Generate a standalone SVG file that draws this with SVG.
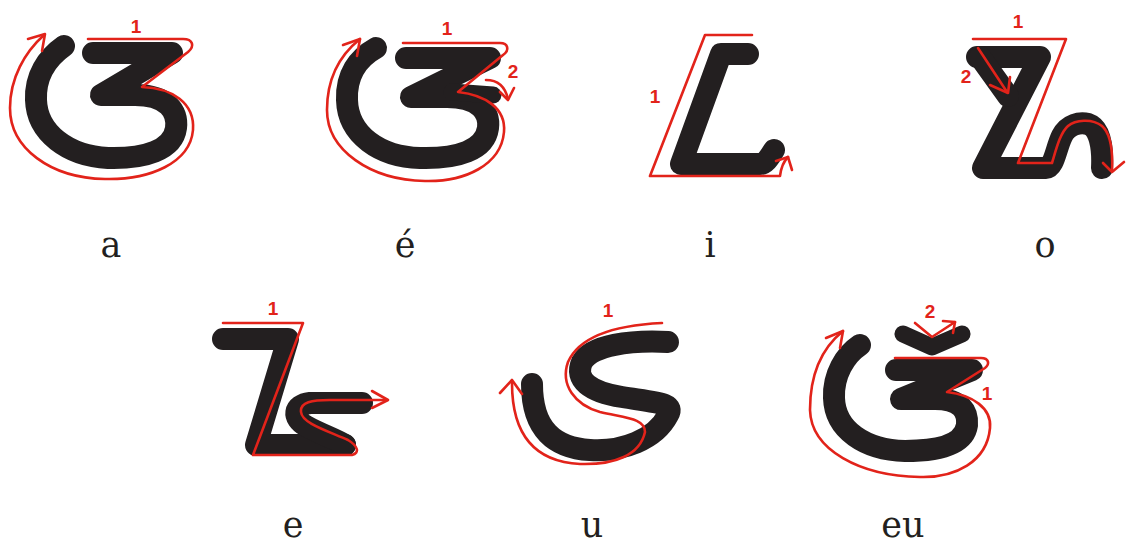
<svg xmlns="http://www.w3.org/2000/svg" width="1132" height="546" viewBox="0 0 1132 546">
<style>
.ink{fill:none;stroke:#231f20;stroke-width:22;stroke-linecap:round;stroke-linejoin:round}
.thin{stroke-width:17}
.guide{fill:none;stroke:#e2231a;stroke-width:2.6;stroke-linecap:round;stroke-linejoin:round}
.num{font-family:"Liberation Sans",Arial,sans-serif;font-weight:bold;font-size:19px;fill:#e2231a;text-anchor:middle}
.lbl{font-family:"DejaVu Serif","Liberation Serif",serif;font-size:35px;fill:#231f20;text-anchor:middle}
</style>
<rect width="1132" height="546" fill="#ffffff"/>

<g id="glyph-a">
<path class="ink" d="M 93,53 L 172,53 L 101,95 L 135,95 C 168,95 178,112 176,128 C 173,150 145,159 108,158 C 68,156 37,133 36,100 C 35,76 47,58 64,46"/>
<path class="guide" d="M 88,39 L 183,39 C 193,39 195,46 188,52 L 142,87 C 172,88 195,103 193,130 C 190,163 150,180 105,179 C 50,178 10,148 10,108 C 10,78 25,52 44,35"/>
<path class="guide" d="M 28,39 L 45,34 L 42,51"/>
<text class="num" x="136" y="33">1</text>
<text class="lbl" x="111" y="257">a</text>
</g>

<g id="glyph-e-acute">
<path class="ink" d="M 406,58 L 490,58 L 411,97 L 447,97 C 480,97 490,113 488,128 C 485,150 458,159 420,158 C 380,157 348,135 347,100 C 346,75 358,58 376,48"/>
<path class="ink thin" d="M 452,92 L 493,95"/>
<path class="guide" d="M 403,43 L 500,43 C 508,43 510,50 503,55 L 458,92 C 485,95 506,108 504,132 C 501,165 465,182 425,181 C 370,180 327,150 327,110 C 327,78 340,55 360,39"/>
<path class="guide" d="M 343,45 L 360,39 L 357,56"/>
<path class="guide" d="M 486,80 C 497,80 505,86 508,99"/>
<path class="guide" d="M 500,92 L 508,100 L 514,88"/>
<text class="num" x="447" y="35">1</text>
<text class="num" x="513" y="78">2</text>
<text class="lbl" x="405" y="257">é</text>
</g>

<g id="glyph-i">
<path class="ink" d="M 748,54 L 721,54 L 681,164 L 760,164 C 766,164 770,156 774,150"/>
<path class="guide" d="M 752,35 L 705,35 L 650,176 L 780,176 C 781,168 783,162 788,157"/>
<path class="guide" d="M 776,161 L 788,157 L 792,170"/>
<text class="num" x="655" y="103">1</text>
<text class="lbl" x="710" y="257">i</text>
</g>

<g id="glyph-o">
<path class="ink" d="M 977,57 L 1040,57 L 983,168 L 1046,168 C 1054,168 1056,148 1062,136 C 1068,124 1080,122 1088,124 C 1100,128 1103,148 1102,168"/>
<path class="ink" d="M 980,57 L 1008,96"/>
<path class="guide" d="M 973,39 L 1066,39 L 1018,163 L 1052,163 C 1056,150 1060,133 1068,126 C 1075,120 1092,118 1102,126 C 1110,133 1113,150 1112,171"/>
<path class="guide" d="M 1103,163 L 1112,172 L 1124,162"/>
<path class="guide" d="M 978,48 L 1007,92"/>
<path class="guide" d="M 990,85 L 1008,93 L 1010,77"/>
<text class="num" x="1018" y="28">1</text>
<text class="num" x="966" y="83">2</text>
<text class="lbl" x="1045" y="257">o</text>
</g>

<g id="glyph-e">
<path class="ink" d="M 223,339 L 288,339 L 256,445 L 345,445"/>
<path class="ink" d="M 362,403 L 310,403 C 293,405 292,418 306,426 C 320,434 338,440 345,445"/>
<path class="guide" d="M 223,323 L 303,323 L 253,455 L 352,455 C 360,453 358,446 348,440 C 325,430 302,423 301,412 C 300,402 312,400 330,400 L 387,400"/>
<path class="guide" d="M 372,391 L 388,400 L 372,408"/>
<text class="num" x="273" y="315">1</text>
<text class="lbl" x="293" y="537">e</text>
</g>

<g id="glyph-u">
<path class="ink" d="M 668,342 C 630,340 592,345 582,362 C 574,380 590,392 622,397 C 660,403 675,403 668,415 C 655,440 622,452 590,450 C 555,448 532,430 532,384"/>
<path class="guide" d="M 662,323 C 620,325 580,335 568,362 C 560,385 575,405 600,412 C 625,418 645,418 645,432 C 640,455 615,465 580,464 C 540,462 512,440 512,383"/>
<path class="guide" d="M 500,393 L 512,380 L 522,394"/>
<text class="num" x="608" y="317">1</text>
<text class="lbl" x="592" y="537">u</text>
</g>

<g id="glyph-eu">
<path class="ink" d="M 896,370 L 972,370 L 901,399 L 935,399 C 962,399 968,412 967,425 C 964,445 938,451 905,451 C 865,450 835,430 834,398 C 833,375 845,355 860,345"/>
<path class="ink thin" d="M 903,334 L 932,347 L 962,334"/>
<path class="guide" d="M 895,358 L 981,358 C 989,358 990,364 985,368 L 947,392 C 972,395 992,408 990,428 C 987,462 955,478 920,477 C 860,476 811,450 810,410 C 810,375 822,348 843,331"/>
<path class="guide" d="M 826,338 L 843,331 L 840,348"/>
<path class="guide" d="M 915,323 L 932,337 L 955,322"/>
<path class="guide" d="M 943,321 L 955,322 L 953,333"/>
<text class="num" x="930" y="318">2</text>
<text class="num" x="987" y="400">1</text>
<text class="lbl" x="903" y="537">eu</text>
</g>
</svg>
